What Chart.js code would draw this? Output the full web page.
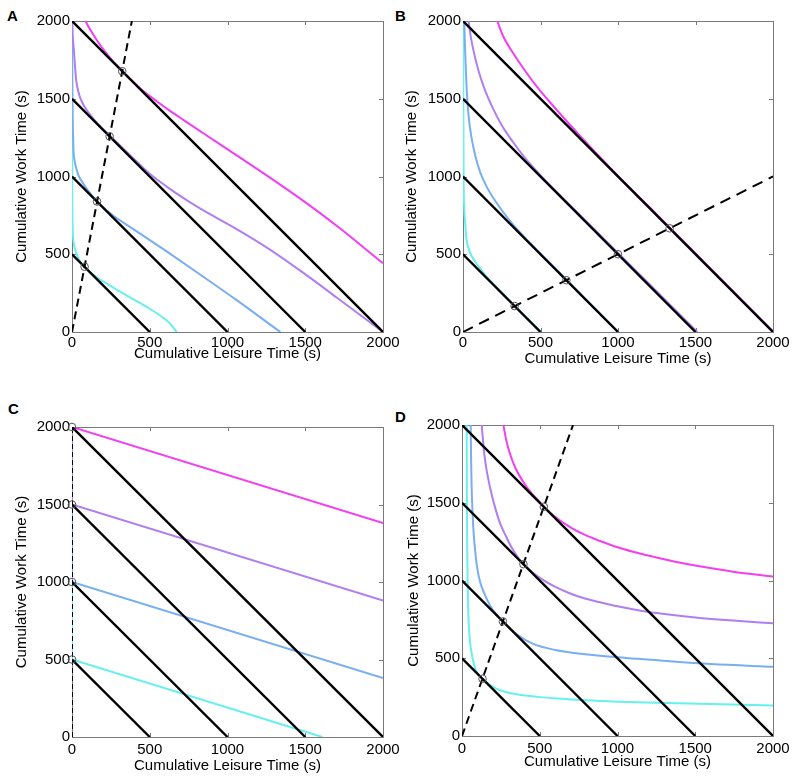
<!DOCTYPE html>
<html>
<head>
<meta charset="utf-8">
<script src="https://cdn.jsdelivr.net/npm/chart.js@4.4.0/dist/chart.umd.min.js"></script>
<style>
html, body { margin: 0; padding: 0; background: #fff; width: 797px; height: 781px; overflow: hidden; position: relative; }
canvas { position: absolute; }
.tag { position: absolute; font: bold 15px "Liberation Sans", Arial, sans-serif; line-height: 1; color: #000; }
</style>
</head>
<body>
<div class="tag" style="left:7px;top:8px">A</div>
<div class="tag" style="left:395px;top:8px">B</div>
<div class="tag" style="left:8px;top:401px">C</div>
<div class="tag" style="left:395px;top:409px">D</div>
<canvas id="chartA" width="405" height="380" style="left:0px;top:0px"></canvas>
<canvas id="chartB" width="404" height="380" style="left:391px;top:0px"></canvas>
<canvas id="chartC" width="405" height="379" style="left:0px;top:406px"></canvas>
<canvas id="chartD" width="405" height="380" style="left:390px;top:404px"></canvas>
<script>
// axis ticks and budget totals (seconds)
const tickValues = [0, 500, 1000, 1500, 2000];
const budgets = [500, 1000, 1500, 2000];

// Panel A  [leisure, work]
const aMagenta = [[86,2000],[120,1940],[160,1876],[210,1806],[260,1745],[323,1680],[380,1622],[437,1567],[540,1487],[630,1422],[716,1364],[845,1278],[1059,1136],[1273,993],[1488,843],[1702,683],[2000,442]];
const aPurple = [[1,2000],[5,1900],[11,1824],[20,1700],[28,1610],[40,1550],[54,1503],[80,1450],[107,1410],[170,1335],[246,1260],[320,1188],[394,1118],[500,1018],[609,935],[700,872],[823,795],[1059,662],[1273,530],[1488,380],[1702,222],[2000,0]];
const aBlue = [[0,2000],[1,1800],[3,1500],[6,1300],[9,1180],[15,1110],[22,1074],[40,1010],[64,967],[110,900],[161,840],[260,752],[394,662],[609,518],[845,355],[1059,205],[1340,0]];
const aCyan = [[0,1500],[1,1000],[2,800],[4,680],[9,590],[18,540],[32,495],[55,450],[80,420],[130,373],[200,325],[300,265],[395,210],[502,148],[580,96],[630,55],[673,0]];
const aDash = [[0,0],[385,2000]];
const aCircles = [[81,420],[161,839],[242,1258],[323,1677]];

// Panel B
const bMagenta = [[221,2000],[260,1900],[325,1791],[400,1680],[475,1580],[570,1468],[668,1357],[760,1256],[862,1147],[1000,1003],[1200,806],[1600,405],[2000,4]];
const bPurple = [[36,2000],[50,1900],[70,1800],[100,1680],[140,1560],[190,1445],[250,1330],[320,1225],[400,1120],[480,1030],[560,946],[640,866],[900,608],[1200,310],[1512,0]];
const bBlue = [[8,2000],[14,1800],[22,1600],[35,1400],[55,1250],[80,1130],[110,1030],[150,940],[200,855],[260,770],[330,682],[420,585],[520,484],[1000,2]];
const bCyan = [[1,2000],[2,1500],[4,1000],[8,800],[14,700],[22,600],[35,540],[55,490],[80,450],[110,410],[150,358],[200,305],[500,2]];
const bDash = [[0,0],[2000,1000]];
const bCircles = [[333,167],[667,333],[1000,500],[1333,667]];

// Panel C
const cMagenta = [[0,2000],[2000,1380]];
const cPurple = [[0,2000],[0,1500],[2000,880]];
const cBlue = [[0,1500],[0,1000],[2000,380]];
const cCyan = [[0,1000],[0,500],[1610,0]];
const cDash = [[0,0],[0,2000]];
const cCircles = [[0,500],[0,1000],[0,1500],[0,2000]];

// Panel D
const dMagenta = [[266,2000],[285,1900],[310,1810],[345,1720],[390,1640],[440,1570],[490,1515],[529,1472],[600,1408],[700,1340],[791,1293],[887,1254],[1000,1214],[1150,1172],[1315,1134],[1500,1096],[1743,1057],[2000,1025]];
const dPurple = [[127,2000],[135,1900],[145,1800],[160,1700],[180,1600],[210,1480],[244,1370],[280,1290],[320,1210],[360,1148],[394,1106],[450,1055],[520,1004],[600,959],[700,915],[791,884],[887,860],[1000,834],[1150,806],[1315,783],[1500,762],[1743,742],[2000,725]];
const dBlue = [[56,2000],[57,1900],[59,1750],[62,1600],[66,1480],[72,1350],[80,1240],[90,1140],[102,1055],[118,985],[140,925],[180,840],[220,782],[263,737],[350,655],[458,592],[600,553],[791,526],[1000,506],[1315,482],[1600,463],[2000,445]];
const dCyan = [[30,2000],[31,1600],[34,1175],[36,1000],[38,880],[41,780],[45,690],[50,625],[56,570],[62,532],[75,470],[88,424],[110,390],[132,368],[170,335],[220,305],[300,278],[384,263],[500,250],[650,239],[791,230],[1000,221],[1315,212],[1600,205],[2000,196]];
const dDash = [[0,0],[714,2000]];
const dCircles = [[132,368],[263,737],[395,1105],[526,1474]];

const curveColors = ['#f23ff2', '#b07ef2', '#78aef2', '#66f0ee'];

Chart.defaults.font.family = '"Liberation Sans", Arial, Helvetica, sans-serif';
Chart.defaults.font.size = 15;
Chart.defaults.color = '#000';

const toXY = arr => arr.map(p => ({ x: p[0], y: p[1] }));

// grey box and inward tick marks like a matlab axes
const boxPlugin = {
    id: 'box',
    beforeDatasetsDraw(chart) {
        const { ctx, chartArea: a, scales } = chart;
        ctx.save();
        ctx.strokeStyle = '#7a7a7a';
        ctx.lineWidth = 1;
        ctx.strokeRect(a.left + 0.5, a.top + 0.5, a.right - a.left, a.bottom - a.top);
        ctx.beginPath();
        tickValues.slice(1, -1).forEach(v => {
            const px = Math.round(scales.x.getPixelForValue(v)) + 0.5;
            const py = Math.round(scales.y.getPixelForValue(v)) + 0.5;
            ctx.moveTo(px, a.top); ctx.lineTo(px, a.top + 4);
            ctx.moveTo(px, a.bottom); ctx.lineTo(px, a.bottom - 4);
            ctx.moveTo(a.left, py); ctx.lineTo(a.left + 4, py);
            ctx.moveTo(a.right, py); ctx.lineTo(a.right - 4, py);
        });
        ctx.stroke();
        ctx.restore();
    }
};

function makePanel(id, curves, dash, circles, o) {
    const datasets = [];

    datasets.push({
        data: toXY(circles), showLine: false, pointRadius: 3.8, pointBorderWidth: 1,
        pointBorderColor: '#555', pointBackgroundColor: 'rgba(0,0,0,0)', clip: false, order: 0
    });

    datasets.push({
        data: toXY(dash), showLine: true, borderColor: '#000', borderWidth: 2,
        borderDash: o.dash, pointRadius: 0, order: 1
    });

    budgets.forEach(t => {
        datasets.push({
            data: [{ x: 0, y: t }, { x: t, y: 0 }], showLine: true, borderColor: '#000',
            borderWidth: 2.4, pointRadius: 0, order: 2
        });
    });

    curves.forEach((c, i) => {
        datasets.push({
            data: toXY(c), showLine: true, borderColor: curveColors[i], borderWidth: 2,
            cubicInterpolationMode: o.smooth ? 'monotone' : 'default', tension: 0,
            pointRadius: 0, order: 3
        });
    });

    new Chart(document.getElementById(id), {
        type: 'scatter',
        data: { datasets: datasets },
        options: {
            responsive: false,
            animation: false,
            events: [],
            layout: { padding: { left: 0, top: 21, right: 22, bottom: 0 } },
            plugins: { legend: { display: false }, tooltip: { enabled: false } },
            scales: {
                x: {
                    type: 'linear', min: 0, max: 2000,
                    ticks: { stepSize: 500, padding: o.xTickPad, maxRotation: 0, autoSkip: false, color: '#000', callback: v => String(v) },
                    grid: { display: false, drawTicks: false },
                    border: { display: false },
                    title: { display: true, text: 'Cumulative Leisure Time (s)', color: '#000', padding: { top: 0, bottom: o.xTitlePad } },
                    afterFit: s => { s.height = 48; }
                },
                y: {
                    type: 'linear', min: 0, max: 2000,
                    ticks: { stepSize: 500, padding: 2, color: '#000', callback: v => String(v) },
                    grid: { display: false, drawTicks: false },
                    border: { display: false },
                    title: { display: true, text: 'Cumulative Work Time (s)', color: '#000', padding: { top: o.yTitlePad, bottom: 0 } },
                    afterFit: s => { s.width = 72; }
                }
            }
        },
        plugins: [boxPlugin]
    });
}

makePanel('chartA', [aMagenta, aPurple, aBlue, aCyan], aDash, aCircles, { smooth: true, dash: [8, 5], xTickPad: 2, xTitlePad: 17, yTitlePad: 13 });
makePanel('chartB', [bMagenta, bPurple, bBlue, bCyan], bDash, bCircles, { smooth: true, dash: [11, 7], xTickPad: 2, xTitlePad: 12, yTitlePad: 12 });
makePanel('chartC', [cMagenta, cPurple, cBlue, cCyan], cDash, cCircles, { smooth: false, dash: [5, 3], xTickPad: 4, xTitlePad: 10, yTitlePad: 13 });
makePanel('chartD', [dMagenta, dPurple, dBlue, dCyan], dDash, dCircles, { smooth: true, dash: [8, 5], xTickPad: 4, xTitlePad: 13, yTitlePad: 15 });
</script>
</body>
</html>
